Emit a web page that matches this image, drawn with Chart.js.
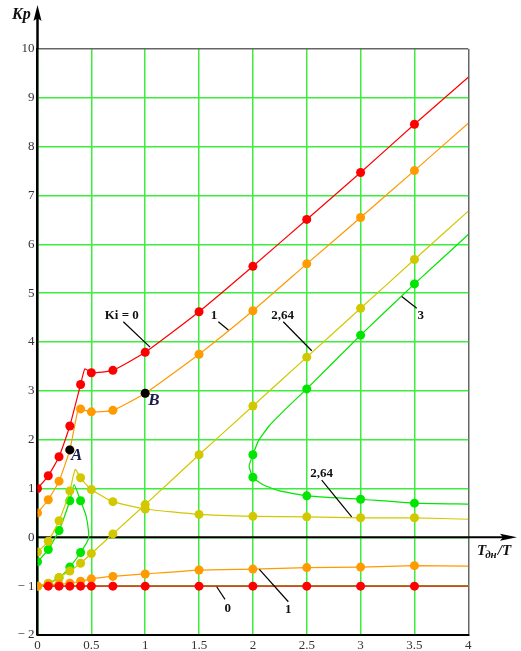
<!DOCTYPE html>
<html>
<head>
<meta charset="utf-8">
<script src="https://cdn.jsdelivr.net/npm/chart.js@4.4.0/dist/chart.umd.min.js"></script>
<style>
  html, body { margin: 0; padding: 0; background: #fff; }
  #wrap { width: 521px; height: 651px; }
</style>
</head>
<body>
<div id="wrap"><canvas id="grafica" width="521" height="651"></canvas></div>
<script>
// Ki = 0
const ki0UpX = [0, 0.1, 0.2, 0.3, 0.4, 0.44, 0.5, 0.7, 1, 1.5, 2, 2.5, 3, 3.5, 4];
const ki0UpY = [1.0, 1.26, 1.65, 2.28, 3.13, 3.45, 3.37, 3.42, 3.79, 4.62, 5.55, 6.51, 7.47, 8.46, 9.42];
const ki0LowX = [0.05, 0.1, 0.2, 0.3, 0.4, 0.5, 0.7, 1, 1.5, 2, 2.5, 3, 3.5, 4];
const ki0LowY = [-1, -1, -1, -1, -1, -1, -1, -1, -1, -1, -1, -1, -1, -1];

// Ki = 1
const ki1UpX = [0, 0.1, 0.2, 0.3, 0.38, 0.4, 0.5, 0.7, 1, 1.5, 2, 2.5, 3, 3.5, 4];
const ki1UpY = [0.5, 0.77, 1.15, 1.79, 2.66, 2.63, 2.57, 2.6, 2.95, 3.75, 4.64, 5.6, 6.55, 7.51, 8.48];
const ki1LowX = [0, 0.1, 0.2, 0.3, 0.4, 0.5, 0.7, 1, 1.5, 2, 2.5, 3, 3.5, 4];
const ki1LowY = [-1, -0.97, -0.96, -0.94, -0.9, -0.85, -0.8, -0.75, -0.67, -0.65, -0.62, -0.61, -0.58, -0.59];

// Ki = 2,64
const ki264UpX = [0, 0.1, 0.2, 0.3, 0.35, 0.4, 0.5, 0.7, 1, 1.5, 2, 2.5, 3, 3.5, 4];
const ki264UpY = [-0.3, -0.08, 0.34, 0.95, 1.39, 1.22, 0.98, 0.73, 0.58, 0.47, 0.43, 0.42, 0.4, 0.4, 0.37];
const ki264LowX = [0, 0.1, 0.2, 0.3, 0.4, 0.5, 0.7, 1, 1.5, 2, 2.5, 3, 3.5, 4];
const ki264LowY = [-1, -0.94, -0.82, -0.69, -0.53, -0.33, 0.07, 0.67, 1.69, 2.69, 3.69, 4.69, 5.69, 6.68];

// Ki = 3
const ki3LoopX = [0, 0.1, 0.2, 0.3, 0.34, 0.4, 0.45, 0.475, 0.47, 0.4, 0.3, 0.2, 0.1, 0];
const ki3LoopY = [-0.5, -0.25, 0.14, 0.75, 1.08, 0.75, 0.45, 0.1, -0.05, -0.31, -0.61, -0.83, -0.95, -1];
const ki3BranchX = [4, 3.5, 3, 2.5, 2.3, 2.15, 2.05, 2, 1.965, 2, 2.1, 2.25, 2.5, 3, 3.5, 4];
const ki3BranchY = [6.2, 5.19, 4.14, 3.04, 2.62, 2.28, 1.97, 1.69, 1.46, 1.23, 1.07, 0.95, 0.85, 0.78, 0.7, 0.68];

// точки A и B
const pointsX = [0.3, 1];
const pointsY = [1.79, 2.95];

const markX = [0, 0.1, 0.2, 0.3, 0.4, 0.5, 0.7, 1, 1.5, 2, 2.5, 3, 3.5];
const xTicks = [0, 0.5, 1, 1.5, 2, 2.5, 3, 3.5, 4];

const ROJO = "#ff0000";
const NARANJA = "#ff9a00";
const AMARILLO = "#d2c800";
const VERDE = "#00e600";

function serie(xs, ys, color) {
    return {
        data: xs.map((x, i) => ({ x: x, y: ys[i] })),
        showLine: true,
        clip: 0,
        borderColor: color,
        backgroundColor: color,
        borderWidth: 1.2,
        tension: 0.15,
        pointRadius: c => markX.includes(c.raw.x) ? 4.5 : 0,
        pointBorderWidth: 0,
        pointHoverRadius: 0
    };
}

const datasets = [
    {
        data: pointsX.map((x, i) => ({ x: x, y: pointsY[i] })),
        showLine: false,
        backgroundColor: "#000",
        pointRadius: 4.5,
        pointBorderWidth: 0
    },
    serie(ki0UpX, ki0UpY, ROJO),
    serie(ki0LowX, ki0LowY, ROJO),
    serie(ki1UpX, ki1UpY, NARANJA),
    serie(ki1LowX, ki1LowY, NARANJA),
    serie(ki264UpX, ki264UpY, AMARILLO),
    serie(ki264LowX, ki264LowY, AMARILLO),
    serie(ki3LoopX, ki3LoopY, VERDE),
    serie(ki3BranchX, ki3BranchY, VERDE)
];

// подписи кривых: текст, позиция, выноска (в координатах графика)
const etiquetas = [
    { t: "Ki = 0", x: 0.782, y: 4.54, l: [0.797, 4.415, 1.045, 3.895] },
    { t: "1", x: 1.639, y: 4.54, l: [1.679, 4.415, 1.772, 4.245] },
    { t: "2,64", x: 2.277, y: 4.54, l: [2.282, 4.415, 2.546, 3.82] },
    { t: "3", x: 3.558, y: 4.55, l: [3.382, 4.93, 3.521, 4.69] },
    { t: "2,64", x: 2.639, y: 1.296, l: [2.639, 1.17, 2.917, 0.42] },
    { t: "0", x: 1.766, y: -1.454, l: [1.664, -1.012, 1.741, -1.27] },
    { t: "1", x: 2.329, y: -1.474, l: [2.06, -0.655, 2.329, -1.319] }
];
const letras = [
    { t: "A", x: 0.364, y: 1.665 },
    { t: "B", x: 1.082, y: 2.797 }
];

const SERIF = "'Liberation Serif', 'DejaVu Serif', serif";

const ejes = {
    id: "ejes",
    beforeDatasetsDraw(chart) {
        const { ctx, scales } = chart;
        const y0 = scales.y.getPixelForValue(0);
        const x0 = scales.x.getPixelForValue(0);
        ctx.save();
        ctx.strokeStyle = "#000";
        ctx.lineWidth = 2;
        ctx.beginPath();
        ctx.moveTo(x0, y0);
        ctx.lineTo(506, y0);
        ctx.stroke();
        ctx.lineWidth = 2.5;
        ctx.beginPath();
        ctx.moveTo(x0, chart.chartArea.top);
        ctx.lineTo(x0, 16);
        ctx.stroke();
        ctx.restore();
    },
    afterDraw(chart) {
        const { ctx, scales } = chart;
        const px = v => scales.x.getPixelForValue(v);
        const py = v => scales.y.getPixelForValue(v);
        const y0 = py(0);
        const x0 = px(0);
        ctx.save();
        ctx.fillStyle = "#000";
        // стрелка оси y
        ctx.beginPath();
        ctx.moveTo(x0, 5);
        ctx.lineTo(x0 + 4, 21);
        ctx.lineTo(x0, 18);
        ctx.lineTo(x0 - 4, 21);
        ctx.closePath();
        ctx.fill();
        // стрелка оси x
        ctx.beginPath();
        ctx.moveTo(517, y0);
        ctx.lineTo(500, y0 - 3.5);
        ctx.lineTo(503, y0);
        ctx.lineTo(500, y0 + 3.5);
        ctx.closePath();
        ctx.fill();

        // подписи осей
        ctx.fillStyle = "#111";
        ctx.textBaseline = "alphabetic";
        ctx.textAlign = "left";
        ctx.font = "bold italic 16px " + SERIF;
        ctx.fillText("Kp", 12, 19);
        ctx.font = "bold italic 15px " + SERIF;
        ctx.fillText("T", 477, 555);
        let w = ctx.measureText("T").width;
        ctx.font = "bold italic 11px " + SERIF;
        ctx.fillText("дн", 477 + w - 1, 558);
        let w2 = ctx.measureText("дн").width;
        ctx.font = "bold italic 15px " + SERIF;
        ctx.fillText("/T", 477 + w + w2, 555);

        // подписи кривых
        ctx.strokeStyle = "#000";
        ctx.lineWidth = 1.2;
        ctx.font = "bold 13px " + SERIF;
        ctx.textAlign = "center";
        ctx.textBaseline = "middle";
        etiquetas.forEach(e => {
            ctx.fillText(e.t, px(e.x), py(e.y));
            ctx.beginPath();
            ctx.moveTo(px(e.l[0]), py(e.l[1]));
            ctx.lineTo(px(e.l[2]), py(e.l[3]));
            ctx.stroke();
        });
        ctx.fillStyle = "#1c1c4a";
        ctx.font = "bold italic 17px " + SERIF;
        letras.forEach(e => ctx.fillText(e.t, px(e.x), py(e.y)));
        ctx.restore();
    }
};

const ctxG = document.getElementById("grafica").getContext("2d");

new Chart(ctxG, {
    type: "scatter",
    data: { datasets: datasets },
    options: {
        responsive: false,
        animation: false,
        events: [],
        layout: { padding: { top: 49, right: 52.7, left: 0, bottom: 0 } },
        plugins: { legend: { display: false }, tooltip: { enabled: false } },
        scales: {
            x: {
                type: "linear",
                min: 0,
                max: 4,
                afterFit: s => { s.height = 16; },
                afterBuildTicks: s => { s.ticks = xTicks.map(v => ({ value: v })); },
                ticks: {
                    padding: 3,
                    color: "#333",
                    font: { family: SERIF, size: 13 },
                    callback: v => String(v)
                },
                grid: {
                    drawTicks: false,
                    lineWidth: 1.5,
                    color: c => c.tick && c.tick.value === 4 ? "#666" : "#3cee3c"
                },
                border: { color: "#000", width: 2 }
            },
            y: {
                type: "linear",
                min: -2,
                max: 10,
                afterFit: s => { s.width = 37.5; },
                ticks: {
                    stepSize: 1,
                    padding: 3,
                    color: "#333",
                    font: { family: SERIF, size: 13 },
                    callback: v => v < 0 ? "\u2212 " + Math.abs(v) : String(v)
                },
                grid: {
                    drawTicks: false,
                    lineWidth: 1.5,
                    color: c => c.tick && c.tick.value === 10 ? "#666" : "#3cee3c"
                },
                border: { color: "#000", width: 2.5 }
            }
        }
    },
    plugins: [ejes]
});
</script>
</body>
</html>
